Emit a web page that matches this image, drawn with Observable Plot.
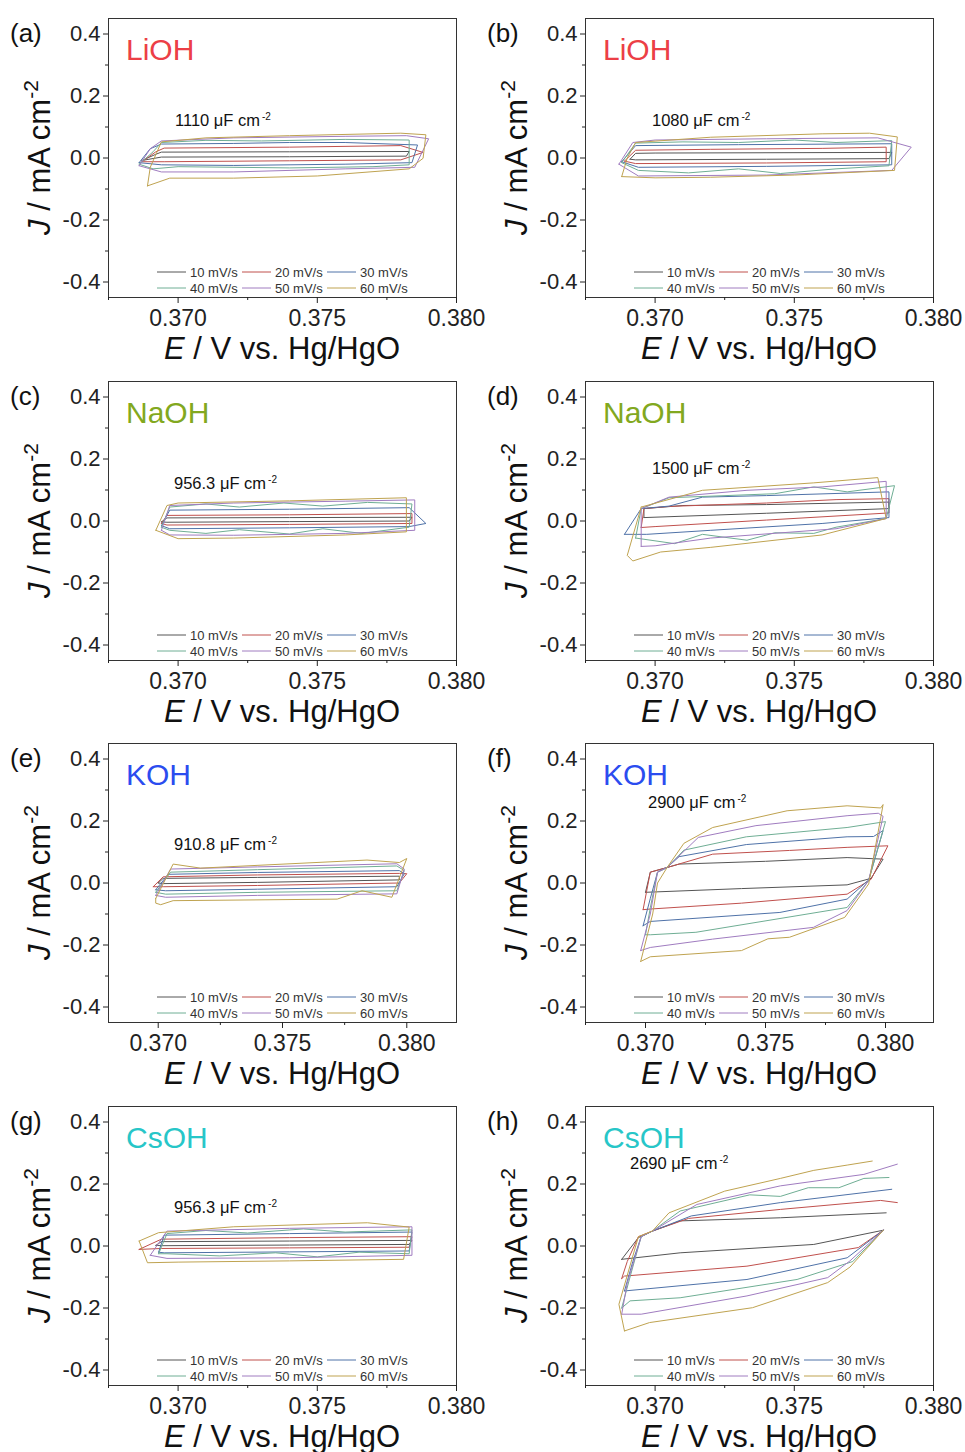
<!DOCTYPE html>
<html><head><meta charset="utf-8">
<script src="https://cdn.jsdelivr.net/npm/d3@7"></script>
<script src="https://cdn.jsdelivr.net/npm/@observablehq/plot@0.6"></script>
<style>
body{margin:0;background:#fff;width:965px;height:1452px;position:relative;overflow:hidden;font-family:"Liberation Sans",Arial,sans-serif;}
.panel{position:absolute;}
.panel svg{overflow:visible;}
</style></head><body>
<script>
// ---------- data ----------
const rates = ["10 mV/s","20 mV/s","30 mV/s","40 mV/s","50 mV/s","60 mV/s"];
const panelLabels = ["(a)","(b)","(c)","(d)","(e)","(f)","(g)","(h)"];
const electrolytes = ["LiOH","LiOH","NaOH","NaOH","KOH","KOH","CsOH","CsOH"];
const capacitances = ["1110","1080","956.3","1500","910.8","2900","956.3","2690"];
const yTicks = [-0.4,-0.2,0,0.2,0.4];
const yMinorTicks = [-0.3,-0.1,0.1,0.3];
const xTicks = [0.370,0.375,0.380];
const xMinorTicks = [0.3675,0.3725,0.3775];
const xDomains = [[0.3675,0.380],[0.3675,0.380],[0.3675,0.380],[0.3675,0.380],[0.368,0.382],[0.3675,0.382],[0.3675,0.380],[0.3675,0.380]];
const yDomain = [-0.45,0.45];

const loopsA = [
 [[0.3687,-0.008],[0.3692,0.012],[0.3694,0.019],[0.3740,0.020],[0.3783,0.021],[0.3782,0.006],[0.3740,0.004],[0.3694,0.003],[0.3687,-0.008]],
 [[0.3687,-0.012],[0.3692,0.020],[0.3695,0.032],[0.3740,0.035],[0.3780,0.040],[0.3788,0.018],[0.3780,-0.006],[0.3740,-0.009],[0.3695,-0.012],[0.3687,-0.012]],
 [[0.3686,-0.015],[0.3690,0.030],[0.3694,0.045],[0.3720,0.047],[0.3740,0.050],[0.3760,0.050],[0.3786,0.042],[0.3784,-0.015],[0.3760,-0.020],[0.3720,-0.024],[0.3694,-0.022],[0.3686,-0.015]],
 [[0.3686,-0.020],[0.3691,0.020],[0.3694,0.050],[0.3710,0.057],[0.3730,0.055],[0.3760,0.060],[0.3783,0.058],[0.3783,-0.022],[0.3770,-0.028],[0.3740,-0.032],[0.3700,-0.028],[0.3691,-0.035],[0.3686,-0.020]],
 [[0.3686,-0.025],[0.3690,0.030],[0.3694,0.055],[0.3720,0.065],[0.3760,0.070],[0.3782,0.072],[0.3790,0.062],[0.3785,-0.030],[0.3760,-0.035],[0.3720,-0.045],[0.3694,-0.045],[0.3686,-0.025]],
 [[0.3689,-0.090],[0.3690,-0.030],[0.3694,0.052],[0.3710,0.065],[0.3740,0.072],[0.3770,0.078],[0.3780,0.080],[0.3789,0.075],[0.3788,-0.001],[0.3783,-0.035],[0.3750,-0.058],[0.3720,-0.065],[0.3697,-0.065],[0.3689,-0.090]]
];
const loopsB = [
 [[0.3691,-0.004],[0.3693,0.015],[0.3700,0.016],[0.3785,0.018],[0.3784,-0.002],[0.3740,-0.004],[0.3693,-0.006],[0.3691,-0.004]],
 [[0.3689,-0.010],[0.3693,0.025],[0.3720,0.028],[0.3760,0.031],[0.3783,0.035],[0.3783,-0.012],[0.3740,-0.016],[0.3693,-0.018],[0.3689,-0.010]],
 [[0.3688,-0.012],[0.3693,0.040],[0.3730,0.043],[0.3785,0.046],[0.3785,-0.022],[0.3740,-0.027],[0.3694,-0.030],[0.3688,-0.012]],
 [[0.3688,-0.015],[0.3693,0.048],[0.3710,0.052],[0.3730,0.050],[0.3750,0.058],[0.3765,0.050],[0.3785,0.056],[0.3784,-0.025],[0.3765,-0.035],[0.3745,-0.050],[0.3730,-0.035],[0.3712,-0.048],[0.3694,-0.040],[0.3688,-0.015]],
 [[0.3687,-0.020],[0.3692,0.050],[0.3700,0.058],[0.3740,0.062],[0.3780,0.065],[0.3792,0.035],[0.3785,-0.040],[0.3740,-0.055],[0.3694,-0.058],[0.3687,-0.020]],
 [[0.3688,-0.060],[0.3690,0.000],[0.3693,0.050],[0.3720,0.067],[0.3760,0.078],[0.3777,0.080],[0.3787,0.068],[0.3786,-0.040],[0.3750,-0.055],[0.3720,-0.062],[0.3700,-0.064],[0.3688,-0.060]]
];
const loopsC = [
 [[0.3694,-0.003],[0.3696,0.010],[0.3740,0.011],[0.3784,0.012],[0.3783,0.000],[0.3740,-0.002],[0.3696,-0.004],[0.3694,-0.003]],
 [[0.3694,-0.008],[0.3696,0.018],[0.3740,0.020],[0.3784,0.024],[0.3784,-0.008],[0.3740,-0.011],[0.3696,-0.013],[0.3694,-0.008]],
 [[0.3694,-0.015],[0.3697,0.035],[0.3740,0.038],[0.3783,0.043],[0.3789,-0.008],[0.3783,-0.018],[0.3740,-0.022],[0.3697,-0.025],[0.3694,-0.015]],
 [[0.3694,-0.020],[0.3697,0.045],[0.3710,0.055],[0.3722,0.045],[0.3738,0.058],[0.3752,0.048],[0.3768,0.060],[0.3784,0.055],[0.3783,-0.020],[0.3766,-0.040],[0.3752,-0.025],[0.3740,-0.042],[0.3722,-0.028],[0.3710,-0.040],[0.3697,-0.030],[0.3694,-0.020]],
 [[0.3694,-0.030],[0.3697,0.050],[0.3720,0.058],[0.3760,0.064],[0.3785,0.068],[0.3785,-0.030],[0.3760,-0.040],[0.3720,-0.046],[0.3697,-0.045],[0.3694,-0.030]],
 [[0.3692,-0.030],[0.3696,0.050],[0.3700,0.058],[0.3740,0.065],[0.3782,0.075],[0.3782,-0.035],[0.3760,-0.045],[0.3720,-0.055],[0.3700,-0.057],[0.3692,-0.030]]
];
const loopsD = [
 [[0.3696,0.011],[0.3696,0.040],[0.3710,0.050],[0.3740,0.053],[0.3784,0.061],[0.3784,0.040],[0.3740,0.025],[0.3696,0.011]],
 [[0.3695,-0.021],[0.3696,0.040],[0.3705,0.047],[0.3740,0.058],[0.3765,0.069],[0.3784,0.072],[0.3784,0.026],[0.3740,0.003],[0.3700,-0.018],[0.3695,-0.021]],
 [[0.3689,-0.043],[0.3695,0.040],[0.3705,0.048],[0.3717,0.077],[0.3740,0.082],[0.3784,0.094],[0.3784,0.011],[0.3760,-0.008],[0.3720,-0.030],[0.3697,-0.043],[0.3689,-0.043]],
 [[0.3693,-0.055],[0.3695,0.040],[0.3705,0.075],[0.3743,0.088],[0.3757,0.110],[0.3769,0.094],[0.3786,0.114],[0.3783,0.008],[0.3765,-0.020],[0.3757,-0.040],[0.3743,-0.038],[0.3733,-0.062],[0.3717,-0.043],[0.3707,-0.073],[0.3693,-0.055]],
 [[0.3695,-0.082],[0.3695,0.040],[0.3705,0.077],[0.3733,0.099],[0.3760,0.110],[0.3783,0.128],[0.3783,0.008],[0.3765,-0.025],[0.3720,-0.055],[0.3700,-0.080],[0.3695,-0.082]],
 [[0.3695,0.045],[0.3717,0.099],[0.3757,0.123],[0.3780,0.140],[0.3783,0.008],[0.3760,-0.045],[0.3720,-0.085],[0.3702,-0.100],[0.3692,-0.129],[0.3690,-0.111],[0.3695,0.045]]
];
const loopsE = [
 [[0.3700,0.000],[0.3702,0.015],[0.3740,0.018],[0.3797,0.022],[0.3797,0.010],[0.3740,0.002],[0.3702,-0.002],[0.3700,0.000]],
 [[0.3698,-0.012],[0.3702,0.020],[0.3740,0.026],[0.3797,0.031],[0.3800,0.030],[0.3797,0.000],[0.3740,-0.008],[0.3702,-0.012],[0.3698,-0.012]],
 [[0.3699,-0.022],[0.3704,0.028],[0.3740,0.034],[0.3797,0.040],[0.3799,0.030],[0.3796,-0.012],[0.3740,-0.020],[0.3703,-0.025],[0.3699,-0.022]],
 [[0.3699,-0.030],[0.3705,0.035],[0.3740,0.043],[0.3796,0.055],[0.3799,0.040],[0.3796,-0.025],[0.3740,-0.030],[0.3703,-0.036],[0.3699,-0.030]],
 [[0.3699,-0.040],[0.3705,0.045],[0.3740,0.052],[0.3796,0.062],[0.3799,0.045],[0.3796,-0.035],[0.3740,-0.040],[0.3703,-0.046],[0.3699,-0.040]],
 [[0.3699,-0.050],[0.3699,-0.065],[0.3701,-0.070],[0.3706,-0.057],[0.3772,-0.052],[0.3782,-0.025],[0.3794,-0.046],[0.3800,0.079],[0.3797,0.066],[0.3784,0.074],[0.3717,0.048],[0.3706,0.061],[0.3699,-0.050]]
];
const loopsF = [
 [[0.3700,-0.030],[0.3702,0.035],[0.3709,0.050],[0.3714,0.061],[0.3750,0.070],[0.3784,0.082],[0.3799,0.077],[0.3794,0.015],[0.3784,-0.006],[0.3740,-0.018],[0.3700,-0.030]],
 [[0.3699,-0.086],[0.3702,0.035],[0.3709,0.050],[0.3728,0.093],[0.3760,0.105],[0.3784,0.115],[0.3801,0.120],[0.3794,0.012],[0.3784,-0.036],[0.3740,-0.065],[0.3702,-0.084],[0.3699,-0.086]],
 [[0.3699,-0.138],[0.3702,-0.050],[0.3705,0.035],[0.3709,0.050],[0.3714,0.085],[0.3742,0.124],[0.3784,0.149],[0.3795,0.150],[0.3799,0.169],[0.3793,0.010],[0.3784,-0.052],[0.3756,-0.095],[0.3702,-0.124],[0.3699,-0.138]],
 [[0.3700,-0.167],[0.3702,-0.080],[0.3705,0.035],[0.3709,0.050],[0.3716,0.106],[0.3742,0.149],[0.3784,0.179],[0.3800,0.198],[0.3793,0.008],[0.3784,-0.079],[0.3721,-0.159],[0.3702,-0.167],[0.3700,-0.167]],
 [[0.3698,-0.218],[0.3702,-0.100],[0.3705,0.035],[0.3709,0.050],[0.3722,0.147],[0.3746,0.185],[0.3784,0.217],[0.3797,0.225],[0.3799,0.215],[0.3793,0.008],[0.3784,-0.089],[0.3770,-0.143],[0.3728,-0.181],[0.3702,-0.208],[0.3698,-0.218]],
 [[0.3698,-0.253],[0.3703,-0.100],[0.3705,0.000],[0.3709,0.050],[0.3716,0.128],[0.3728,0.179],[0.3759,0.233],[0.3784,0.249],[0.3798,0.242],[0.3799,0.253],[0.3793,-0.003],[0.3783,-0.111],[0.3760,-0.175],[0.3751,-0.180],[0.3740,-0.218],[0.3702,-0.238],[0.3698,-0.253]]
];
const loopsG = [
 [[0.3692,0.002],[0.3694,0.014],[0.3740,0.016],[0.3784,0.018],[0.3783,0.005],[0.3740,0.003],[0.3694,0.001],[0.3692,0.002]],
 [[0.3686,-0.011],[0.3694,0.022],[0.3740,0.027],[0.3784,0.030],[0.3783,-0.004],[0.3740,-0.006],[0.3694,-0.008],[0.3686,-0.011]],
 [[0.3693,-0.020],[0.3695,0.035],[0.3740,0.040],[0.3784,0.045],[0.3783,-0.016],[0.3740,-0.019],[0.3695,-0.022],[0.3693,-0.020]],
 [[0.3693,-0.025],[0.3696,0.040],[0.3710,0.050],[0.3725,0.042],[0.3745,0.055],[0.3760,0.045],[0.3784,0.052],[0.3783,-0.025],[0.3765,-0.020],[0.3750,-0.035],[0.3735,-0.022],[0.3715,-0.032],[0.3696,-0.025],[0.3693,-0.025]],
 [[0.3690,-0.030],[0.3696,0.048],[0.3740,0.057],[0.3784,0.062],[0.3784,-0.030],[0.3740,-0.038],[0.3696,-0.040],[0.3690,-0.030]],
 [[0.3686,0.016],[0.3693,0.043],[0.3720,0.062],[0.3768,0.075],[0.3783,0.061],[0.3781,-0.043],[0.3740,-0.048],[0.3700,-0.052],[0.3689,-0.054],[0.3686,0.016]]
];
const loopsH = [
 [[0.3688,-0.043],[0.3694,0.027],[0.3699,0.048],[0.3709,0.081],[0.3745,0.091],[0.3783,0.107],[0.3783,null],[0.3782,0.051],[0.3757,0.005],[0.3709,-0.022],[0.3688,-0.043]],
 [[0.3688,-0.105],[0.3690,-0.050],[0.3694,0.030],[0.3699,0.048],[0.3712,0.089],[0.3745,0.118],[0.3781,0.147],[0.3787,0.140],[0.3787,null],[0.3782,0.051],[0.3773,-0.005],[0.3733,-0.065],[0.3689,-0.097],[0.3688,-0.105]],
 [[0.3689,-0.145],[0.3692,-0.050],[0.3695,0.030],[0.3699,0.048],[0.3713,0.097],[0.3745,0.140],[0.3785,0.183],[0.3785,null],[0.3782,0.051],[0.3769,-0.038],[0.3733,-0.108],[0.3689,-0.145]],
 [[0.3688,-0.200],[0.3691,-0.100],[0.3695,0.030],[0.3699,0.048],[0.3709,0.113],[0.3734,0.165],[0.3745,0.160],[0.3755,0.188],[0.3766,0.188],[0.3775,0.218],[0.3784,0.221],[0.3784,null],[0.3782,0.051],[0.3771,-0.050],[0.3751,-0.108],[0.3709,-0.167],[0.3691,-0.177],[0.3688,-0.200]],
 [[0.3688,-0.220],[0.3690,-0.120],[0.3695,0.030],[0.3699,0.048],[0.3715,0.134],[0.3745,0.194],[0.3775,0.231],[0.3787,0.264],[0.3787,null],[0.3782,0.051],[0.3770,-0.048],[0.3762,-0.102],[0.3733,-0.161],[0.3695,-0.220],[0.3688,-0.220]],
 [[0.3689,-0.274],[0.3687,-0.188],[0.3694,0.030],[0.3699,0.048],[0.3705,0.107],[0.3725,0.177],[0.3745,0.218],[0.3757,0.244],[0.3769,0.261],[0.3778,0.274],[0.3778,null],[0.3782,0.051],[0.3770,-0.068],[0.3762,-0.118],[0.3735,-0.199],[0.3698,-0.247],[0.3689,-0.274]]
];
const panelLoops = [loopsA, loopsB, loopsC, loopsD, loopsE, loopsF, loopsG, loopsH];

// ---------- style / layout ----------
const rateColors = ["#555555","#c0504d","#4f72a8","#6fae94","#a07cc0","#bfa350"];
const electrolyteColors = {LiOH:"#ec3f46", NaOH:"#82a820", KOH:"#2b4cef", CsOH:"#27c6c8"};
const colLeft = [0, 477], rowTop = [0, 363, 725, 1088];
const W = 480, H = 362, ML = 108, MR = 24, MT = 18, MB = 65;
const capOffsets = [[67,102],[67,102],[66,102],[67,87],[66,101],[63,59],[66,101],[45,57]];
const FONT = "Liberation Sans, Arial, sans-serif";

panelLoops.forEach((loops, p) => {
  const rows = loops.flatMap((loop, i) => loop.map(([E, J]) => ({rate: rates[i], E, J})));
  const dom = xDomains[p];
  const svg = Plot.plot({
    width: W, height: H, marginLeft: ML, marginRight: MR, marginTop: MT, marginBottom: MB,
    style: {fontFamily: FONT, overflow: "visible", background: "transparent", color: "#222"},
    x: {domain: dom, label: null},
    y: {domain: yDomain, label: null},
    color: {domain: rates, range: rateColors},
    marks: [
      Plot.line(rows, {x: "E", y: "J", z: "rate", stroke: "rate", strokeWidth: 1, clip: true}),
      Plot.frame({stroke: "#333", strokeWidth: 1}),
      Plot.axisY({ticks: yTicks, tickSize: 5, tickPadding: 3, fontSize: 22, tickFormat: d => d.toFixed(1), label: null, color: "#222"}),
      Plot.axisY({ticks: yMinorTicks, tickSize: 3, tickFormat: () => "", label: null, color: "#222"}),
      Plot.axisX({ticks: xTicks, tickSize: 6, tickPadding: 6, fontSize: 23, tickFormat: d => d.toFixed(3), label: null, color: "#222"}),
      Plot.axisX({ticks: xMinorTicks.filter(t => t >= dom[0] - 1e-9 && t <= dom[1]), tickSize: 3, tickFormat: () => "", label: null, color: "#222"})
    ]
  });
  const g = d3.select(svg).append("g").attr("font-family", FONT).attr("text-anchor", "start");
  // panel letter
  g.append("text").attr("x", 10).attr("y", 33).attr("dy", "0.35em").attr("font-size", 26).attr("fill", "#111").text(panelLabels[p]);
  // electrolyte
  g.append("text").attr("x", ML + 18).attr("y", MT + 31).attr("dy", "0.35em").attr("font-size", 30)
    .attr("fill", electrolyteColors[electrolytes[p]]).text(electrolytes[p]);
  // capacitance
  const cap = g.append("text").attr("x", ML + capOffsets[p][0]).attr("y", MT + capOffsets[p][1]).attr("dy", "0.35em")
    .attr("font-size", 16.5).attr("fill", "#111");
  cap.append("tspan").text(capacitances[p] + " ");
  cap.append("tspan").text("\u03BC");
  cap.append("tspan").text("F cm");
  cap.append("tspan").attr("dx", 2).attr("dy", -6).attr("font-size", 10).text("-2");
  // y title
  const yt = g.append("text").attr("transform", `translate(50,${MT + 139.5}) rotate(-90)`)
    .attr("text-anchor", "middle").attr("font-size", 31).attr("fill", "#111");
  yt.append("tspan").attr("font-style", "italic").text("J");
  yt.append("tspan").text(" / mA cm");
  yt.append("tspan").attr("dy", -12).attr("font-size", 21).text("-2");
  // x title
  const xt = g.append("text").attr("x", ML + (W - ML - MR) / 2).attr("y", 359)
    .attr("text-anchor", "middle").attr("font-size", 31).attr("fill", "#111");
  xt.append("tspan").attr("font-style", "italic").text("E");
  xt.append("tspan").text(" / V vs. Hg/HgO");
  // legend
  const legX = [49, 134, 219], legY = [254, 270];
  rates.forEach((r, i) => {
    const x0 = ML + legX[i % 3], y0 = MT + legY[Math.floor(i / 3)];
    g.append("line").attr("x1", x0).attr("x2", x0 + 29).attr("y1", y0).attr("y2", y0)
      .attr("stroke", rateColors[i]).attr("stroke-width", 1);
    g.append("text").attr("x", x0 + 33).attr("y", y0).attr("dy", "0.35em").attr("font-size", 13)
      .attr("fill", "#333").text(r);
  });
  const div = document.createElement("div");
  div.className = "panel";
  div.style.left = colLeft[p % 2] + "px";
  div.style.top = rowTop[Math.floor(p / 2)] + "px";
  div.appendChild(svg);
  document.body.appendChild(div);
});
</script>
</body></html>
